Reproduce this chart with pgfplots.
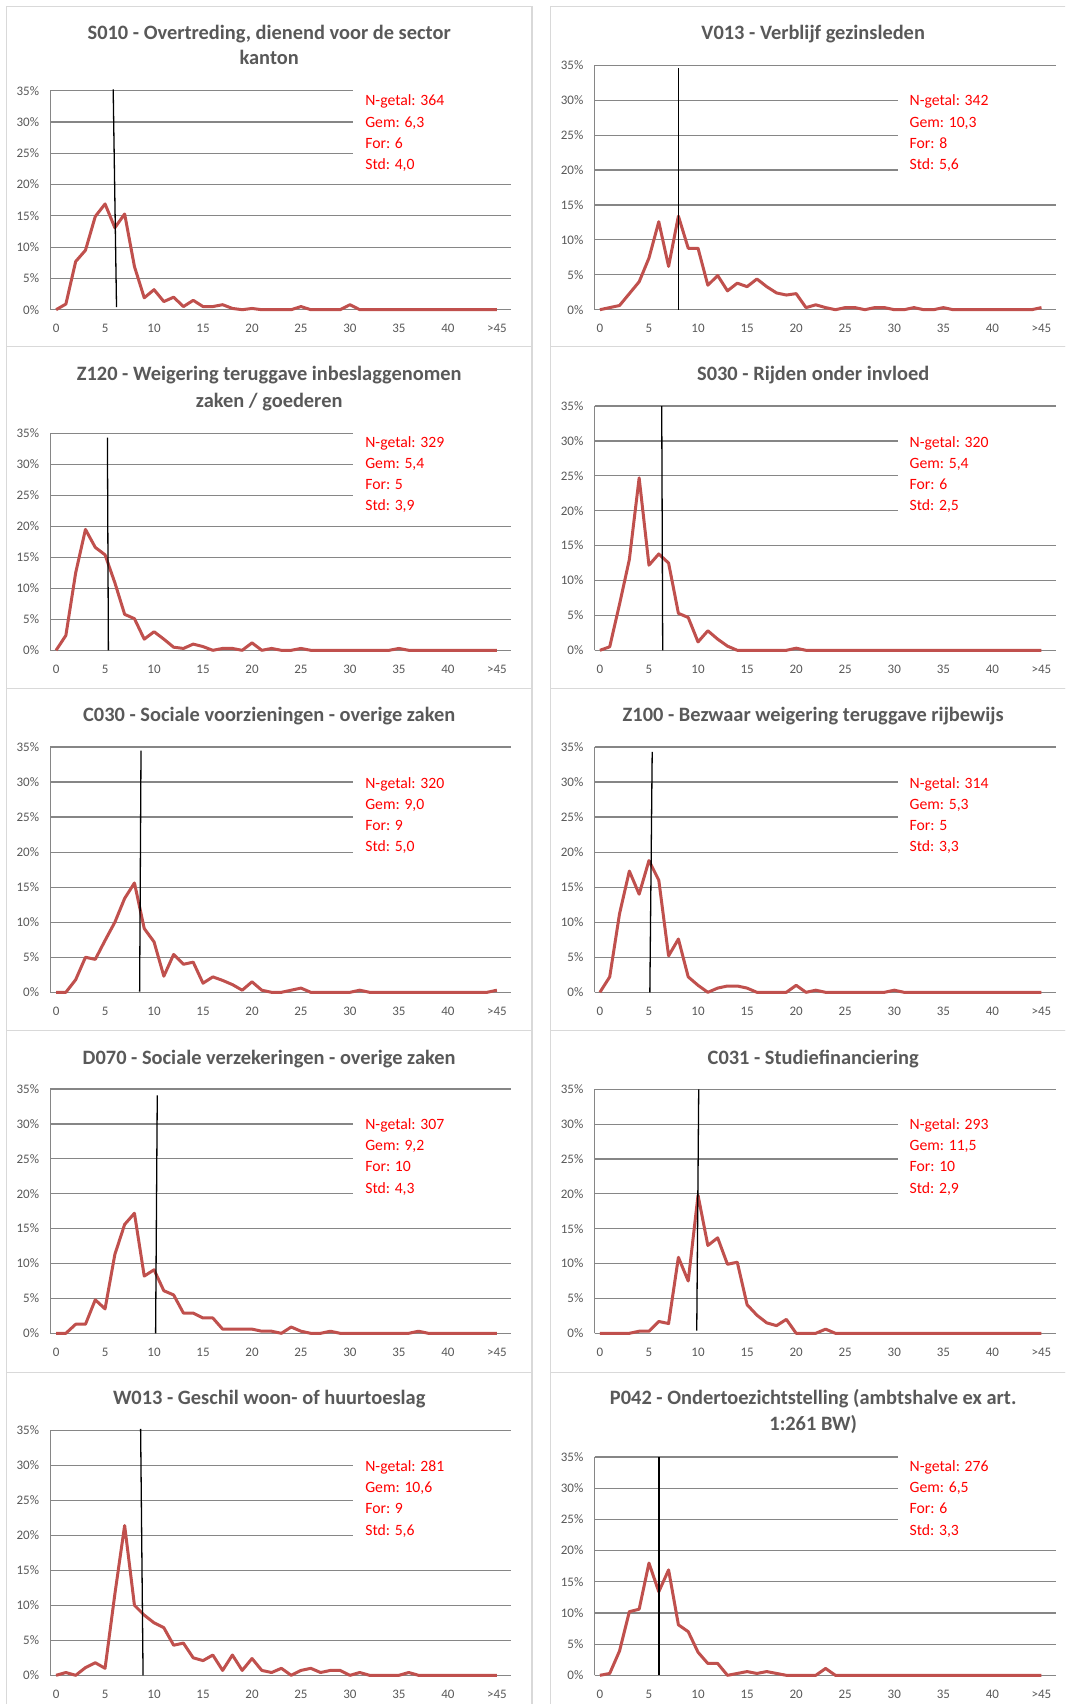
\documentclass[border=0pt]{standalone}
\usepackage{pgfplots}
\pgfplotsset{compat=1.18}
\usepackage{pgfplotstable}
\usepackage{fontspec}
\setmainfont{Carlito}
\definecolor{gridc}{HTML}{868686}
\definecolor{tickc}{HTML}{595959}
\definecolor{titlec}{HTML}{595959}
\definecolor{seriesc}{HTML}{C0504D}
\definecolor{framec}{HTML}{D9D9D9}
\definecolor{statc}{HTML}{FF0000}

\pgfplotstableread{
x p1 p2 p3 p4 p5 p6 p7 p8 p9 p10
0 0 0 0 0 0 0 0 0 0 0
1 0.9 0.3 2.4 0.5 0 2.2 0 0 0.4 0.3
2 7.7 0.6 12.5 6.6 1.8 11.2 1.3 0 0 3.9
3 9.5 2.3 19.5 13.0 5.0 17.3 1.3 0 1.1 10.2
4 14.9 4.0 16.6 24.7 4.7 14.0 4.8 0.3 1.8 10.6
5 16.9 7.4 15.4 12.2 7.4 18.8 3.5 0.3 1.0 18.0
6 13.1 12.6 10.9 13.8 10.0 16.0 11.3 1.7 11.6 13.4
7 15.3 6.2 5.8 12.5 13.4 5.2 15.6 1.4 21.4 16.9
8 6.9 13.4 5.1 5.3 15.6 7.6 17.2 10.9 10.0 8.1
9 1.9 8.8 1.8 4.7 9.1 2.2 8.2 7.5 8.6 7.0
10 3.2 8.8 3.0 1.2 7.2 1.0 9.1 19.8 7.5 3.7
11 1.3 3.5 1.8 2.8 2.3 0 6.1 12.6 6.8 1.9
12 2.0 4.9 0.5 1.6 5.4 0.6 5.5 13.7 4.3 1.9
13 0.5 2.7 0.3 0.6 4.0 0.9 2.9 9.9 4.6 0
14 1.5 3.8 1.0 0 4.3 0.9 2.9 10.2 2.5 0.3
15 0.5 3.3 0.6 0 1.3 0.6 2.2 4.1 2.1 0.6
16 0.5 4.4 0 0 2.2 0 2.2 2.6 2.9 0.3
17 0.8 3.3 0.3 0 1.7 0 0.6 1.5 0.7 0.6
18 0.2 2.4 0.3 0 1.1 0 0.6 1.1 2.9 0.3
19 0 2.1 0 0 0.3 0 0.6 2.0 0.7 0
20 0.2 2.3 1.2 0.3 1.5 1.0 0.6 0 2.4 0
21 0 0.3 0 0 0.3 0 0.3 0 0.7 0
22 0 0.7 0.3 0 0 0.3 0.3 0 0.4 0
23 0 0.3 0 0 0 0 0 0.6 1.0 1.1
24 0 0 0 0 0.3 0 0.9 0 0 0
25 0.5 0.3 0.3 0 0.6 0 0.3 0 0.7 0
26 0 0.3 0 0 0 0 0 0 1.0 0
27 0 0 0 0 0 0 0 0 0.4 0
28 0 0.3 0 0 0 0 0.3 0 0.7 0
29 0 0.3 0 0 0 0 0 0 0.7 0
30 0.8 0 0 0 0 0.3 0 0 0 0
31 0 0 0 0 0.3 0 0 0 0.4 0
32 0 0.3 0 0 0 0 0 0 0 0
33 0 0 0 0 0 0 0 0 0 0
34 0 0 0 0 0 0 0 0 0 0
35 0 0.3 0.3 0 0 0 0 0 0 0
36 0 0 0 0 0 0 0 0 0.4 0
37 0 0 0 0 0 0 0.3 0 0 0
38 0 0 0 0 0 0 0 0 0 0
39 0 0 0 0 0 0 0 0 0 0
40 0 0 0 0 0 0 0 0 0 0
41 0 0 0 0 0 0 0 0 0 0
42 0 0 0 0 0 0 0 0 0 0
43 0 0 0 0 0 0 0 0 0 0
44 0 0 0 0 0 0 0 0 0 0
45 0 0.3 0 0 0.3 0 0 0 0 0
}\datatable

\newcommand{\titlefont}{\fontsize{20.4}{24}\selectfont\bfseries}
\newcommand{\statfont}{\fontsize{15.7}{19}\selectfont}
\newcommand{\ptitle}[3]{\node[anchor=base, inner sep=0pt, text=titlec, font=\titlefont] at ({#1*1pt},{-#2*1pt}) {#3};}
\newcommand{\stats}[6]{%
  \node[anchor=base west, inner sep=0pt, text=statc, font=\statfont] at ({#1*1pt},{-#2*1pt}) {N-getal: #3};
  \node[anchor=base west, inner sep=0pt, text=statc, font=\statfont] at ({#1*1pt},{-(#2+21.1)*1pt}) {Gem: #4};
  \node[anchor=base west, inner sep=0pt, text=statc, font=\statfont] at ({#1*1pt},{-(#2+42.2)*1pt}) {For: #5};
  \node[anchor=base west, inner sep=0pt, text=statc, font=\statfont] at ({#1*1pt},{-(#2+63.3)*1pt}) {Std: #6};}

\pgfplotsset{
  panel/.style={
    scale only axis, anchor=south west, clip=false,
    axis x line*=bottom, axis y line*=left,
    axis line style={draw=gridc, line width=1.2pt},
    ymin=0, ymax=35,
    ytick={0,5,10,15,20,25,30,35},
    yticklabels={0\%,5\%,10\%,15\%,20\%,25\%,30\%,35\%},
    xtick={0,5,10,15,20,25,30,35,40,45},
    xticklabels={0,5,10,15,20,25,30,35,40,>45},
    major tick length=0pt,
    ymajorgrids, grid style={draw=gridc, line width=1.2pt},
    tick label style={font=\fontsize{13}{15}\selectfont, text=tickc},
    xticklabel style={anchor=base, inner sep=0pt, yshift=-23pt},
    yticklabel style={anchor=east, inner sep=0pt, xshift=-11pt},
  },
  leftcol/.style={panel, xmin=-0.59, xmax=46.46, width=460.9pt},
  rightcol/.style={panel, xmin=-0.55, xmax=46.49, width=461.6pt},
  ser/.style={draw=seriesc, line width=3pt, line join=round, no marks},
  vline/.style={draw=black, line width=1.3pt, no marks},
}

\begin{document}
\begin{tikzpicture}
\useasboundingbox[fill=white] (0pt,0pt) rectangle (1065pt,-1704pt);
\clip (0pt,0pt) rectangle (1065pt,-1704pt);

% frames
\foreach \ya/\yb in {6.7/346.7, 346.7/688.7, 688.7/1030.7, 1030.7/1372.7, 1372.7/1720}{
  \draw[framec, line width=1.3pt] (6.8pt,-\ya pt) rectangle (532pt,-\yb pt);
  \draw[framec, line width=1.3pt] (550.5pt,-\ya pt) rectangle (1090pt,-\yb pt);
}

% ---------- Panel 1
\begin{axis}[leftcol, at={(50.3pt,-309.7pt)}, height=219pt]
\fill[white] (axis cs:30.34,22) rectangle (axis cs:46.6,36.5);
\addplot[ser] table[x=x, y=p1] {\datatable};
\addplot[vline] coordinates {(5.83,35.2) (6.17,0.4)};
\end{axis}
\ptitle{269.2}{39.5}{S010 - Overtreding, dienend voor de sector}
\ptitle{269.2}{64.8}{kanton}
\stats{365.1}{106}{364}{6,3}{6}{4,0}

% ---------- Panel 2
\begin{axis}[rightcol, at={(594.5pt,-309.7pt)}, height=244.4pt]
\fill[white] (axis cs:30.38,17) rectangle (axis cs:46.6,32.5);
\addplot[ser] table[x=x, y=p2] {\datatable};
\addplot[vline] coordinates {(8.0,34.6) (8.0,0)};
\end{axis}
\ptitle{813.2}{39.5}{V013 - Verblijf gezinsleden}
\stats{909.4}{106}{342}{10,3}{8}{5,6}

% ---------- Panel 3
\begin{axis}[leftcol, at={(50.3pt,-650.3pt)}, height=217pt]
\fill[white] (axis cs:30.34,22) rectangle (axis cs:46.6,36.5);
\addplot[ser] table[x=x, y=p3] {\datatable};
\addplot[vline] coordinates {(5.24,34.3) (5.34,0)};
\end{axis}
\ptitle{269.2}{380.5}{Z120 - Weigering teruggave inbeslaggenomen}
\ptitle{269.2}{407.3}{zaken / goederen}
\stats{365.1}{447}{329}{5,4}{5}{3,9}

% ---------- Panel 4
\begin{axis}[rightcol, at={(594.5pt,-650.3pt)}, height=244.3pt]
\fill[white] (axis cs:30.38,17) rectangle (axis cs:46.6,32.5);
\addplot[ser] table[x=x, y=p4] {\datatable};
\addplot[vline] coordinates {(6.30,35) (6.40,0)};
\end{axis}
\ptitle{813.2}{380.5}{S030 - Rijden onder invloed}
\stats{909.4}{447}{320}{5,4}{6}{2,5}

% ---------- Panel 5
\begin{axis}[leftcol, at={(50.3pt,-992.3pt)}, height=245.3pt]
\fill[white] (axis cs:30.34,17) rectangle (axis cs:46.6,32.5);
\addplot[ser] table[x=x, y=p5] {\datatable};
\addplot[vline] coordinates {(8.67,34.5) (8.53,0.1)};
\end{axis}
\ptitle{269.2}{721.5}{C030 - Sociale voorzieningen - overige zaken}
\stats{365.1}{788}{320}{9,0}{9}{5,0}

% ---------- Panel 6
\begin{axis}[rightcol, at={(594.5pt,-992.3pt)}, height=245.3pt]
\fill[white] (axis cs:30.38,17) rectangle (axis cs:46.6,32.5);
\addplot[ser] table[x=x, y=p6] {\datatable};
\addplot[vline] coordinates {(5.33,34.3) (5.09,0)};
\end{axis}
\ptitle{813.2}{721.5}{Z100 - Bezwaar weigering teruggave rijbewijs}
\stats{909.4}{788}{314}{5,3}{5}{3,3}

% ---------- Panel 7
\begin{axis}[leftcol, at={(50.3pt,-1333.3pt)}, height=244.3pt]
\fill[white] (axis cs:30.34,17) rectangle (axis cs:46.6,32.5);
\addplot[ser] table[x=x, y=p7] {\datatable};
\addplot[vline] coordinates {(10.33,34.1) (10.16,0)};
\end{axis}
\ptitle{269.2}{1064.3}{D070 - Sociale verzekeringen - overige zaken}
\stats{365.1}{1129.7}{307}{9,2}{10}{4,3}

% ---------- Panel 8
\begin{axis}[rightcol, at={(594.5pt,-1333.3pt)}, height=244pt]
\fill[white] (axis cs:30.38,17) rectangle (axis cs:46.6,32.5);
\addplot[ser] table[x=x, y=p8] {\datatable};
\addplot[vline] coordinates {(10.07,35) (9.87,0.4)};
\end{axis}
\ptitle{813.2}{1064.3}{C031 - Studiefinanciering}
\stats{909.4}{1129.7}{293}{11,5}{10}{2,9}

% ---------- Panel 9
\begin{axis}[leftcol, at={(50.3pt,-1675.3pt)}, height=245pt]
\fill[white] (axis cs:30.34,17) rectangle (axis cs:46.6,32.5);
\addplot[ser] table[x=x, y=p9] {\datatable};
\addplot[vline] coordinates {(8.63,35.2) (8.88,0)};
\end{axis}
\ptitle{269.2}{1404}{W013 - Geschil woon- of huurtoeslag}
\stats{365.1}{1471.7}{281}{10,6}{9}{5,6}

% ---------- Panel 10
\begin{axis}[rightcol, at={(594.5pt,-1675.3pt)}, height=218.3pt]
\fill[white] (axis cs:30.38,22) rectangle (axis cs:46.6,36.5);
\addplot[ser] table[x=x, y=p10] {\datatable};
\addplot[vline] coordinates {(6.02,35) (6.02,0)};
\end{axis}
\ptitle{813.2}{1404}{P042 - Ondertoezichtstelling (ambtshalve ex art.}
\ptitle{813.2}{1430.7}{1:261 BW)}
\stats{909.4}{1471.7}{276}{6,5}{6}{3,3}
\end{tikzpicture}
\end{document}
